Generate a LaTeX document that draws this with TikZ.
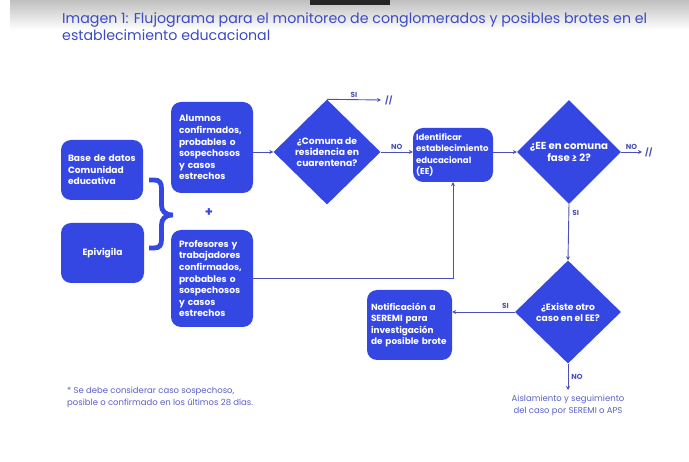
\documentclass[tikz,border=0pt]{standalone}
\usepackage{fontspec}
\setmainfont{Poppins}
\usetikzlibrary{shapes.geometric,arrows.meta}
\definecolor{boxblue}{HTML}{3447E2}
\definecolor{lineblue}{HTML}{4A50B6}
\definecolor{titleblue}{HTML}{3C4BC4}
\definecolor{noteblue}{HTML}{5A60C8}
\tikzset{
  box/.style={rounded corners=10pt, fill=boxblue, text=white, font=\bfseries\fontsize{9.1}{11.6}\selectfont, align=left, inner ysep=0pt},
  dia/.style={diamond, aspect=1, fill=boxblue, text=white, font=\bfseries\fontsize{9.2}{11}\selectfont, align=center, inner sep=0pt},
  conn/.style={draw=lineblue, line width=0.9pt},
  arr/.style={conn, -{Stealth[length=4pt,width=4pt]}},
  lab/.style={text=lineblue, font=\bfseries\fontsize{7.3}{8}\selectfont, inner sep=1pt},
  brk/.style={text=lineblue, font=\bfseries\fontsize{8}{9}\selectfont, inner sep=0pt},
  note/.style={text=noteblue, font=\fontsize{8.5}{12}\selectfont, align=left, inner sep=0pt},
}
\begin{document}
\begin{tikzpicture}[x=1pt,y=-1pt]
\path[use as bounding box, fill=white] (0,0) rectangle (689,462);
\shade[top color=black!25, bottom color=white] (10,0) rectangle (689,30);
\fill[black!85] (310,0) rectangle (390,5);

\node[anchor=north west, text=titleblue, font=\fontsize{14.2}{17.5}\selectfont, align=left, inner sep=0pt] (title) at (62,12)
  {Imagen 1: Flujograma para el monitoreo de conglomerados y posibles brotes en el\\establecimiento educacional};

\node[box, minimum width=82pt, minimum height=60pt, text width=68pt, inner xsep=7pt] (base) at (102,170)
  {Base de datos\\Comunidad\\educativa};
\node[box, minimum width=83pt, minimum height=60pt, text width=67pt, inner xsep=8pt, align=center] (epi) at (102.5,253)
  {Epivigila};
\node[box, minimum width=82pt, minimum height=91pt, text width=66pt, inner xsep=8pt] (alum) at (212,147.5)
  {Alumnos\\confirmados,\\probables o\\sospechosos\\y casos\\estrechos};
\node[box, minimum width=82pt, minimum height=97pt, text width=66pt, inner xsep=8pt] (prof) at (212,278.5)
  {Profesores y\\trabajadores\\confirmados,\\probables o\\sospechosos\\y casos\\estrechos};
\node[text=boxblue, font=\bfseries\fontsize{13}{13}\selectfont, inner sep=0pt] (plus) at (209,213) {+};

\draw[boxblue, line width=4.8pt] (149,180) -- (154,180) .. controls (160,180) and (161.5,183) .. (161.5,189) -- (161.5,205) .. controls (161.5,211) and (165,215) .. (173,215) .. controls (165,215) and (161.5,219) .. (161.5,225) -- (161.5,239) .. controls (161.5,245) and (160,248) .. (154,248) -- (149,248);

\node[dia, minimum width=107pt, minimum height=105pt] (comuna) at (327,152)
  {¿Comuna de\\residencia en\\cuarentena?};
\node[box, font=\bfseries\fontsize{8.6}{11.2}\selectfont, minimum width=80pt, minimum height=54pt, text width=74pt, inner xsep=3pt] (ident) at (453,155)
  {Identificar\\establecimiento\\educacional\\(EE)};
\node[dia, font=\bfseries\fontsize{10.2}{12.5}\selectfont, minimum width=104pt, minimum height=104pt] (ee) at (569,152)
  {¿EE en comuna\\fase ≥ 2?};
\node[dia, minimum width=106pt, minimum height=103pt] (ex) at (568,312)
  {¿Existe otro\\caso en el EE?};
\node[box, font=\bfseries\fontsize{8.9}{11.4}\selectfont, minimum width=85pt, minimum height=70pt, text width=77pt, inner xsep=4pt] (notif) at (409.5,325)
  {Notificación a\\SEREMI para\\investigación\\de posible brote};

\coordinate (si1end) at (381,100);
\coordinate (no2end) at (642,152);
\coordinate (no3end) at (568,390);
\node[brk, anchor=west] (brk1) at (385,100) {//};
\node[brk, anchor=west] (brk2) at (645,152) {//};

\draw[arr] (comuna.west -| alum.east) -- (comuna.west);
\draw[arr] (comuna.north) -- (si1end) node[lab, midway, above=1pt] {SI};
\draw[arr] (comuna.east) -- (comuna.east -| ident.west) node[lab, midway, above=1pt] {NO};
\draw[arr] (prof.east) -| (ident.south);
\draw[arr] (ee.west -| ident.east) -- (ee.west);
\draw[arr] (ee.east) -- (no2end) node[lab, midway, above=1pt] {NO};
\draw[arr] (ee.south) -- (ex.north) node[lab, pos=0.16, right=2pt] {SI};
\draw[arr] (ex.west) -- (ex.west -| notif.east) node[lab, pos=0.15, above=2pt] {SI};
\draw[arr] (ex.south) -- (no3end) node[lab, midway, right=2pt] {NO};

\node[note, anchor=north, align=center] (aisl) at (568,395)
  {Aislamiento y seguimiento\\del caso por SEREMI o APS};
\node[note, anchor=north west] (foot) at (67,387)
  {* Se debe considerar caso sospechoso,\\posible o confirmado en los últimos 28 días.};
\end{tikzpicture}
\end{document}
